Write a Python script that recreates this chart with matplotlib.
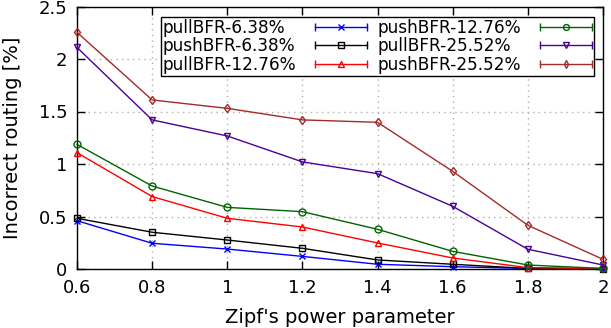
import matplotlib
matplotlib.use("Agg")
import matplotlib.pyplot as plt
from matplotlib.lines import Line2D
from matplotlib.legend_handler import HandlerLine2D, HandlerTuple
from matplotlib.ticker import FuncFormatter

zipf = [0.6, 0.8, 1.0, 1.2, 1.4, 1.6, 1.8, 2.0]

pull_638 = [0.46, 0.245, 0.19, 0.12, 0.045, 0.022, 0.005, 0.001]
push_638 = [0.483, 0.35, 0.276, 0.197, 0.086, 0.045, 0.005, 0.002]
pull_1276 = [1.108, 0.69, 0.483, 0.40, 0.248, 0.105, 0.013, 0.005]
push_1276 = [1.187, 0.79, 0.587, 0.546, 0.378, 0.168, 0.038, 0.005]
pull_2552 = [2.11, 1.42, 1.267, 1.02, 0.908, 0.597, 0.188, 0.038]
push_2552 = [2.254, 1.61, 1.53, 1.42, 1.397, 0.93, 0.416, 0.092]

labels = ["pullBFR-6.38%", "pushBFR-6.38%", "pullBFR-12.76%",
          "pushBFR-12.76%", "pullBFR-25.52%", "pushBFR-25.52%"]
series = [pull_638, push_638, pull_1276, push_1276, pull_2552, push_2552]
colors = ["#0000ff", "#000000", "#ff0000", "#006400", "#4b0096", "#a52a2a"]
markers = ["x", "s", "^", "o", "v", "d"]
msizes = [5, 5, 4.6, 5, 4.6, 4.4]


def main():
    fig = plt.figure(figsize=(6.11, 3.28), dpi=100)
    ax = fig.add_axes([77 / 611, 1 - 269 / 328, 526 / 611, 262.5 / 328])

    handles = []
    hmap = {}
    for y, lab, c, m, ms in zip(series, labels, colors, markers, msizes):
        ax.plot(zipf, y, color=c, marker=m, ms=ms, mfc="none", mec=c,
                lw=1, mew=1, clip_on=False, zorder=3)
        caps = Line2D([], [], color=c, lw=1, marker="|", ms=6, mew=1)
        mark = Line2D([], [], color=c, ls="none", marker=m, ms=ms * 0.85,
                      mfc="none", mew=1)
        hmap[caps] = HandlerLine2D(numpoints=2, marker_pad=0)
        handles.append((caps, mark))

    ax.set_xlim(0.6, 2.0)
    ax.set_ylim(0, 2.5)
    ax.set_xticks(zipf)
    ax.set_yticks([0, 0.5, 1, 1.5, 2, 2.5])
    fmt = FuncFormatter(lambda v, p: "%g" % round(v, 3))
    ax.xaxis.set_major_formatter(fmt)
    ax.yaxis.set_major_formatter(fmt)
    ax.tick_params(direction="in", length=6, width=1, top=True, right=True,
                   labelsize=13, pad=7)
    ax.grid(True, color="#b0b0b0", ls=(0, (1, 3)), lw=1)
    ax.set_axisbelow(True)
    for s in ax.spines.values():
        s.set_linewidth(1)

    ax.set_xlabel("Zipf's power parameter", fontsize=14, labelpad=8)
    ax.set_ylabel("Incorrect routing [%]", fontsize=14, labelpad=12)

    hmap[tuple] = HandlerTuple(ndivide=1)
    leg = ax.legend(handles, labels, handler_map=hmap, ncol=2,
                    markerfirst=False, loc="upper right",
                    bbox_to_anchor=(594 / 611, 1 - 17 / 328),
                    bbox_transform=fig.transFigure, fontsize=12.2,
                    frameon=True, fancybox=False, framealpha=1,
                    edgecolor="black", borderpad=0.1, labelspacing=0.04,
                    handlelength=3.1, handletextpad=1.1, columnspacing=0.6,
                    borderaxespad=0)
    leg.get_frame().set_linewidth(1)

    # left-align label text while keeping handles lined up
    fig.canvas.draw()
    r = fig.canvas.get_renderer()
    for col in leg._legend_handle_box.get_children():
        items = col.get_children()
        w = max(it.get_bbox(r).width for it in items)
        for it in items:
            it.mode = "expand"
            it.width = w

    fig.savefig("out.png", dpi=100)
    plt.close(fig)


if __name__ == '__main__':
    main()
